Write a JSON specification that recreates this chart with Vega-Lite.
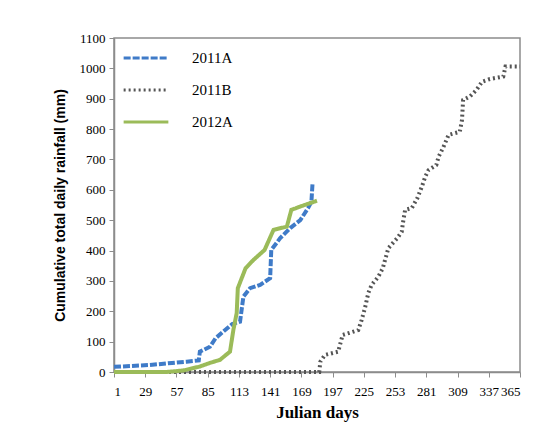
{
  "$schema": "https://vega.github.io/schema/vega-lite/v6.json",
  "width": 406,
  "height": 334,
  "autosize": "none",
  "padding": {"left": 114, "top": 38, "right": 28, "bottom": 68},
  "background": "white",
  "config": {
    "view": {"stroke": "#8c8c8c", "strokeWidth": 1.5},
    "axis": {"grid": false, "domainColor": "#8c8c8c", "domainWidth": 1.5, "tickColor": "#8c8c8c", "labelFont": "Liberation Serif", "labelFontSize": 13, "labelColor": "#000"}
  },
  "data": {
    "values": [
      {"series": "2011A", "day": 1, "mm": 17},
      {"series": "2011A", "day": 33, "mm": 23},
      {"series": "2011A", "day": 53, "mm": 30},
      {"series": "2011A", "day": 66, "mm": 34},
      {"series": "2011A", "day": 77, "mm": 38},
      {"series": "2011A", "day": 78, "mm": 67},
      {"series": "2011A", "day": 87, "mm": 83},
      {"series": "2011A", "day": 92, "mm": 111},
      {"series": "2011A", "day": 99, "mm": 133},
      {"series": "2011A", "day": 107, "mm": 158},
      {"series": "2011A", "day": 114, "mm": 166},
      {"series": "2011A", "day": 117, "mm": 248},
      {"series": "2011A", "day": 123, "mm": 276},
      {"series": "2011A", "day": 132, "mm": 287},
      {"series": "2011A", "day": 141, "mm": 309},
      {"series": "2011A", "day": 142, "mm": 402},
      {"series": "2011A", "day": 150, "mm": 441},
      {"series": "2011A", "day": 159, "mm": 474},
      {"series": "2011A", "day": 168, "mm": 500},
      {"series": "2011A", "day": 175, "mm": 540},
      {"series": "2011A", "day": 178, "mm": 561},
      {"series": "2011A", "day": 179, "mm": 622},
      {"series": "2011B", "day": 1, "mm": 0},
      {"series": "2011B", "day": 185, "mm": 0},
      {"series": "2011B", "day": 186, "mm": 34},
      {"series": "2011B", "day": 190, "mm": 56},
      {"series": "2011B", "day": 202, "mm": 67},
      {"series": "2011B", "day": 204, "mm": 95},
      {"series": "2011B", "day": 206, "mm": 122},
      {"series": "2011B", "day": 220, "mm": 138},
      {"series": "2011B", "day": 223, "mm": 171},
      {"series": "2011B", "day": 226, "mm": 211},
      {"series": "2011B", "day": 229, "mm": 260},
      {"series": "2011B", "day": 232, "mm": 287},
      {"series": "2011B", "day": 238, "mm": 314},
      {"series": "2011B", "day": 242, "mm": 342},
      {"series": "2011B", "day": 244, "mm": 369},
      {"series": "2011B", "day": 247, "mm": 408},
      {"series": "2011B", "day": 255, "mm": 441},
      {"series": "2011B", "day": 259, "mm": 462},
      {"series": "2011B", "day": 260, "mm": 490},
      {"series": "2011B", "day": 262, "mm": 534},
      {"series": "2011B", "day": 268, "mm": 540},
      {"series": "2011B", "day": 273, "mm": 573},
      {"series": "2011B", "day": 277, "mm": 610},
      {"series": "2011B", "day": 280, "mm": 643},
      {"series": "2011B", "day": 283, "mm": 665},
      {"series": "2011B", "day": 290, "mm": 682},
      {"series": "2011B", "day": 292, "mm": 709},
      {"series": "2011B", "day": 296, "mm": 738},
      {"series": "2011B", "day": 301, "mm": 781},
      {"series": "2011B", "day": 311, "mm": 791},
      {"series": "2011B", "day": 313, "mm": 830},
      {"series": "2011B", "day": 314, "mm": 896},
      {"series": "2011B", "day": 320, "mm": 907},
      {"series": "2011B", "day": 326, "mm": 929},
      {"series": "2011B", "day": 331, "mm": 956},
      {"series": "2011B", "day": 338, "mm": 965},
      {"series": "2011B", "day": 350, "mm": 973},
      {"series": "2011B", "day": 352, "mm": 1006},
      {"series": "2011B", "day": 365, "mm": 1006},
      {"series": "2012A", "day": 1, "mm": 0},
      {"series": "2012A", "day": 48, "mm": 0},
      {"series": "2012A", "day": 63, "mm": 5},
      {"series": "2012A", "day": 78, "mm": 18},
      {"series": "2012A", "day": 87, "mm": 30},
      {"series": "2012A", "day": 96, "mm": 40},
      {"series": "2012A", "day": 105, "mm": 67},
      {"series": "2012A", "day": 108, "mm": 138},
      {"series": "2012A", "day": 111, "mm": 194},
      {"series": "2012A", "day": 112, "mm": 276},
      {"series": "2012A", "day": 119, "mm": 342},
      {"series": "2012A", "day": 126, "mm": 369},
      {"series": "2012A", "day": 136, "mm": 402},
      {"series": "2012A", "day": 144, "mm": 468},
      {"series": "2012A", "day": 156, "mm": 479},
      {"series": "2012A", "day": 160, "mm": 534},
      {"series": "2012A", "day": 168, "mm": 545},
      {"series": "2012A", "day": 183, "mm": 564}
    ]
  },
  "mark": {"type": "line", "strokeWidth": 4},
  "encoding": {
    "x": {
      "field": "day", "type": "quantitative",
      "scale": {"domain": [1, 365], "nice": false},
      "axis": {"values": [1, 29, 57, 85, 113, 141, 169, 197, 225, 253, 281, 309, 337, 365], "labelOverlap": false, "title": "Julian days", "titleFont": "Liberation Serif", "titleFontSize": 17, "titleFontWeight": "bold", "titleColor": "#000", "labelPadding": 8, "titlePadding": 6}
    },
    "y": {
      "field": "mm", "type": "quantitative",
      "scale": {"domain": [0, 1100], "nice": false},
      "axis": {"values": [0, 100, 200, 300, 400, 500, 600, 700, 800, 900, 1000, 1100], "format": "d", "title": "Cumulative total daily rainfall (mm)", "titleFont": "Liberation Sans", "titleFontSize": 14, "titleFontWeight": "bold", "titleColor": "#000", "labelPadding": 4, "titlePadding": 12}
    },
    "color": {
      "field": "series", "type": "nominal",
      "scale": {"domain": ["2011A", "2011B", "2012A"], "range": ["#3f7bc8", "#555555", "#9bbb59"]},
      "legend": {"orient": "none", "legendX": 8, "legendY": -4, "title": null, "symbolType": "stroke", "symbolSize": 2000, "symbolStrokeWidth": 3, "labelFont": "Liberation Serif", "labelFontSize": 15, "labelColor": "#000", "rowPadding": -20, "labelOffset": 22}
    },
    "strokeDash": {
      "field": "series", "type": "nominal",
      "scale": {"domain": ["2011A", "2011B", "2012A"], "range": [[7, 2], [2, 3], [1, 0]]},
      "legend": null
    }
  }
}
